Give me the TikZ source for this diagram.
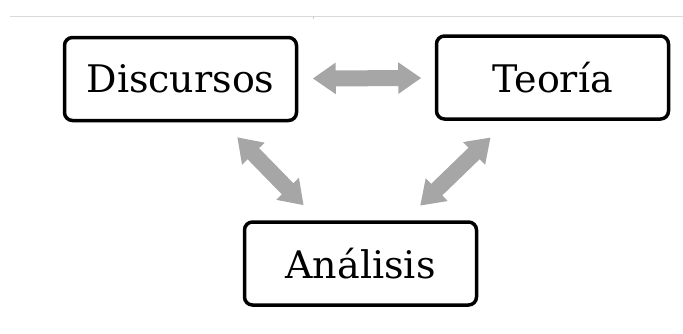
\documentclass[tikz,border=0pt]{standalone}
\usepackage{fontspec}
\setmainfont{DejaVu Serif}
\usetikzlibrary{arrows.meta}
\usetikzlibrary{shadows}

\begin{document}
\begin{tikzpicture}[x=1pt,y=-1pt] %% three boxes, gray block arrows
	\tikzstyle{box}=[draw,line width=3.5pt,rounded corners=8pt,fill=white,
		minimum width=232pt,minimum height=83pt,inner sep=0pt,font=\fontsize{38}{44}\selectfont,
		drop shadow={shadow xshift=0.5pt,shadow yshift=-1.5pt,opacity=.25}]
	\tikzstyle{link}=[line width=16pt,draw={rgb,255:red,166;green,166;blue,166},
		{Triangle[length=23pt 0 0,width=30pt 0 0]}-{Triangle[length=23pt 0 0,width=30pt 0 0]}]
	\useasboundingbox (0,0) rectangle (683,333);
	% top rule
	\draw[black!15,line width=1pt] (10,16) -- (683,16);
	\draw[black!20,line width=1pt] (313,16) -- (313,19);
	\node[box] (disc) at (180.5,79) {Discursos};
	\node[box] (teo) at (552.5,77.5) {Teoría};
	\node[box] (anal) at (360.5,263.5) {Análisis};
	\draw[link,shorten <=14.5pt,shorten >=13.5pt] (disc) -- (teo);
	\draw[link,shorten <=21pt,shorten >=21pt] (disc) -- (anal);
	\draw[link,shorten <=24pt,shorten >=21pt] (teo) -- (anal);
\end{tikzpicture}
\end{document}
